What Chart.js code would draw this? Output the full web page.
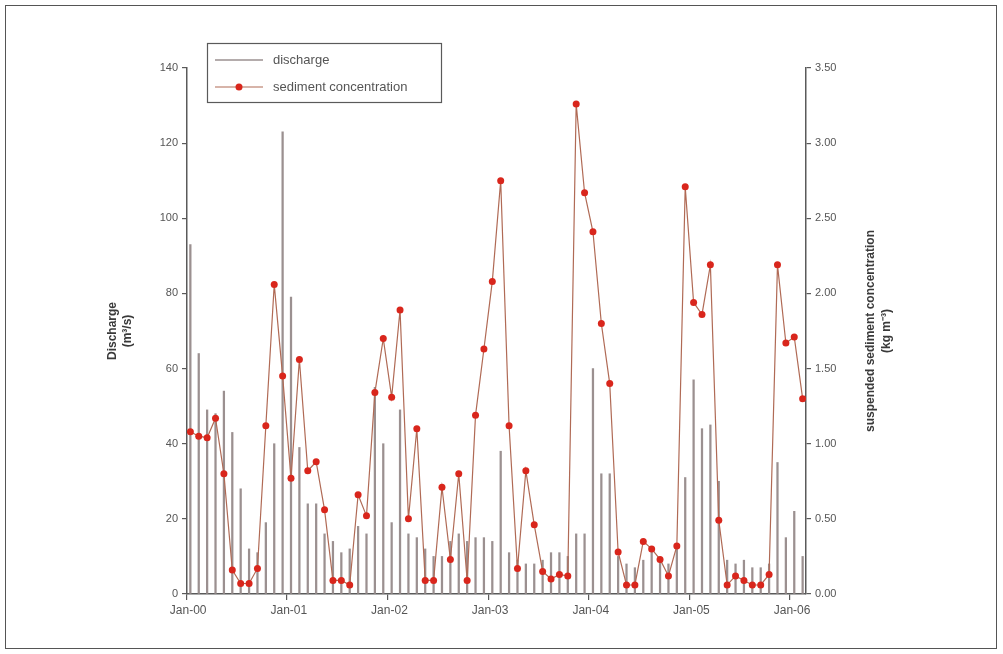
<!DOCTYPE html>
<html>
<head>
<meta charset="utf-8">
<script src="https://cdn.jsdelivr.net/npm/chart.js@4"></script>
<style>
  body { margin: 0; background: #fff; }
  #frame { position: absolute; left: 5px; top: 5px; width: 990px; height: 642px; border: 1px solid #555; }
  #wrap { position: absolute; left: 0; top: 0; width: 1003px; height: 654px; }
</style>
</head>
<body>
<div id="frame"></div>
<div id="wrap"><canvas id="chart" width="1003" height="654"></canvas></div>
<script>
// monthly values, Jan 2000 .. Feb 2006 (index 0 = Jan-00)
const discharge = [
	93, 64, 49, 48, 54, 43, 28, 12, 11, 19, 40, 123,
	79, 39, 24, 24, 16, 14, 11, 12, 18, 16, 55, 40,
	19, 49, 16, 15, 12, 10, 10, 14, 16, 14, 15, 15,
	14, 38, 11, 9, 8, 8, 9, 11, 11, 10, 16, 16,
	60, 32, 32, 10, 8, 7, 9, 12, 9, 8, 13, 31,
	57, 44, 45, 30, 9, 8, 9, 7, 7, 8, 35, 15,
	22, 10
];
const sediment = [
	1.08, 1.05, 1.04, 1.17, 0.80, 0.16, 0.07, 0.07, 0.17, 1.12, 2.06, 1.45,
	0.77, 1.56, 0.82, 0.88, 0.56, 0.09, 0.09, 0.06, 0.66, 0.52, 1.34, 1.70,
	1.31, 1.89, 0.50, 1.10, 0.09, 0.09, 0.71, 0.23, 0.80, 0.09, 1.19, 1.63,
	2.08, 2.75, 1.12, 0.17, 0.82, 0.46, 0.15, 0.10, 0.13, 0.12, 3.26, 2.67,
	2.41, 1.80, 1.40, 0.28, 0.06, 0.06, 0.35, 0.30, 0.23, 0.12, 0.32, 2.71,
	1.94, 1.86, 2.19, 0.49, 0.06, 0.12, 0.09, 0.06, 0.06, 0.13, 2.19, 1.67,
	1.71, 1.30
];
const yearLabels = ['Jan-00', 'Jan-01', 'Jan-02', 'Jan-03', 'Jan-04', 'Jan-05', 'Jan-06'];
const yearTicks = [-0.5, 11.5, 23.5, 35.5, 47.5, 59.5, 71.5];
const dischargeTicks = [0, 20, 40, 60, 80, 100, 120, 140];
const sedimentTicks = [0, 0.5, 1, 1.5, 2, 2.5, 3, 3.5];

const axisColor = '#5a5a5a';
const textColor = '#555';
const qColor = '#9b9090';
const sLine = '#b06a55';
const sDot = '#d9261c';

const overlay = {
	id: 'overlay',
	afterDraw(chart) {
		const ctx = chart.ctx;
		const a = chart.chartArea;
		const midY = (a.top + a.bottom) / 2;
		ctx.save();
		ctx.fillStyle = '#3a3a3a';
		ctx.textAlign = 'center';
		ctx.textBaseline = 'middle';

		ctx.save();
		ctx.translate(113, midY);
		ctx.rotate(-Math.PI / 2);
		ctx.font = 'bold 12px Arial';
		ctx.fillText('Discharge', 0, 0);
		ctx.fillText('(m³/s)', 0, 15);
		ctx.restore();

		ctx.save();
		ctx.translate(871, midY);
		ctx.rotate(-Math.PI / 2);
		ctx.font = 'bold 12px Arial';
		ctx.fillText('suspended sediment concentration', 0, 0);
		ctx.fillText('(kg m⁻³)', 0, 16);
		ctx.restore();

		// legend box
		ctx.fillStyle = '#fff';
		ctx.fillRect(207, 43, 234, 59);
		ctx.strokeStyle = axisColor;
		ctx.lineWidth = 1.2;
		ctx.strokeRect(207.5, 43.5, 234, 59);
		ctx.lineWidth = 1.5;
		ctx.strokeStyle = qColor;
		ctx.beginPath(); ctx.moveTo(215, 60); ctx.lineTo(263, 60); ctx.stroke();
		ctx.strokeStyle = sLine;
		ctx.lineWidth = 1.2;
		ctx.beginPath(); ctx.moveTo(215, 87); ctx.lineTo(263, 87); ctx.stroke();
		ctx.fillStyle = sDot;
		ctx.beginPath(); ctx.arc(239, 87, 3.5, 0, Math.PI * 2); ctx.fill();
		ctx.fillStyle = textColor;
		ctx.textAlign = 'left';
		ctx.font = '13px Arial';
		ctx.fillText('discharge', 273, 60);
		ctx.fillText('sediment concentration', 273, 87);
		ctx.restore();
	}
};

const ctx = document.getElementById('chart').getContext('2d');
new Chart(ctx, {
	data: {
		datasets: [{
			type: 'line',
			label: 'sediment concentration',
			data: sediment.map((v, i) => ({ x: i, y: v })),
			yAxisID: 'yS',
			borderColor: sLine,
			borderWidth: 1.2,
			pointRadius: 3.5,
			pointBackgroundColor: sDot,
			pointBorderColor: sDot,
			pointBorderWidth: 0,
			tension: 0,
			order: 1
		}, {
			type: 'bar',
			label: 'discharge',
			data: discharge.map((v, i) => ({ x: i, y: v })),
			yAxisID: 'yQ',
			backgroundColor: qColor,
			barThickness: 1.6,
			order: 2
		}]
	},
	options: {
		responsive: false,
		animation: false,
		layout: { padding: { top: 68 } },
		plugins: { legend: { display: false }, tooltip: { enabled: false } },
		scales: {
			x: {
				type: 'linear',
				offset: false,
				min: -0.4,
				max: 73.4,
				afterBuildTicks(scale) {
					scale.ticks = yearTicks.map(v => ({ value: v }));
				},
				afterFit(scale) { scale.height = 60; },
				ticks: {
					autoSkip: false,
					maxRotation: 0,
					color: textColor,
					font: { family: 'Arial', size: 12 },
					labelOffset: 2,
					callback: (v, i) => yearLabels[i]
				},
				grid: { drawOnChartArea: false, offset: false, tickLength: 6, color: axisColor, lineWidth: 1.2 },
				border: { color: axisColor, width: 1.5 }
			},
			yQ: {
				position: 'left',
				min: 0,
				max: 140,
				afterBuildTicks(scale) {
					scale.ticks = dischargeTicks.map(v => ({ value: v }));
				},
				afterFit(scale) { scale.width = 187; },
				ticks: { color: textColor, font: { family: 'Arial', size: 11 }, padding: 4 },
				grid: { drawOnChartArea: false, tickLength: 5, color: axisColor, lineWidth: 1.2 },
				border: { color: axisColor, width: 1.5 }
			},
			yS: {
				position: 'right',
				min: 0,
				max: 3.5,
				afterBuildTicks(scale) {
					scale.ticks = sedimentTicks.map(v => ({ value: v }));
				},
				afterFit(scale) { scale.width = 197; },
				ticks: {
					color: textColor,
					font: { family: 'Arial', size: 11 },
					padding: 4,
					callback: v => v.toFixed(2)
				},
				grid: { drawOnChartArea: false, tickLength: 5, color: axisColor, lineWidth: 1.2 },
				border: { color: axisColor, width: 1.5 }
			}
		}
	},
	plugins: [overlay]
});
</script>
</body>
</html>
